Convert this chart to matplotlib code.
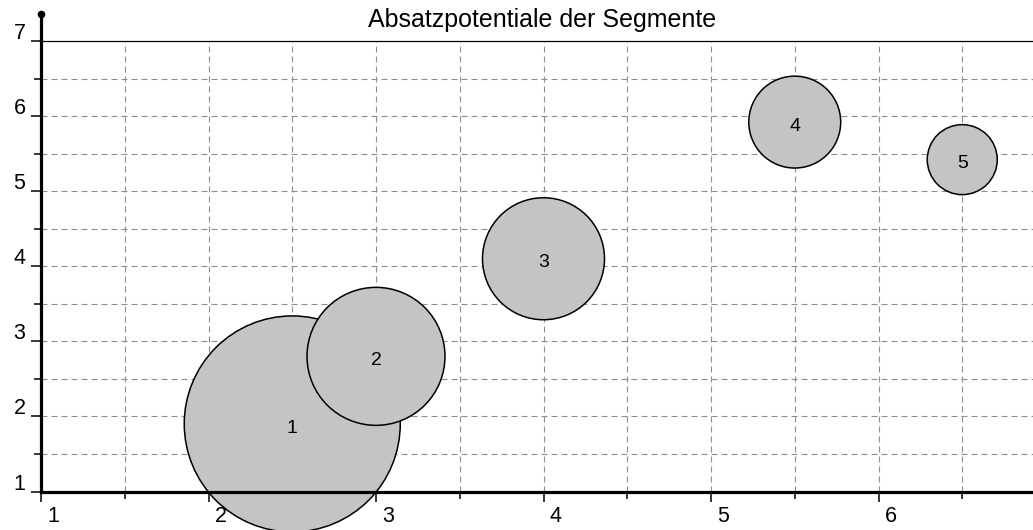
import matplotlib
matplotlib.use("Agg")
import matplotlib.pyplot as plt
import matplotlib.transforms as mtransforms
import numpy as np

# ---- data ----
segments = ["1", "2", "3", "4", "5"]
x_vals = [2.5, 3.0, 4.0, 5.5, 6.5]
y_vals = [1.9, 2.8, 4.1, 5.92, 5.42]
potential = [100, 40.8, 31.9, 18.1, 10.5]
x_ticks = [1, 2, 3, 4, 5, 6]
y_ticks = [1, 2, 3, 4, 5, 6, 7]
half_steps = [1.5, 2.5, 3.5, 4.5, 5.5, 6.5]
title = "Absatzpotentiale der Segmente"

plt.rcParams['font.family'] = ['Liberation Sans', 'DejaVu Sans']

W, H = 1033, 530
fig = plt.figure(figsize=(W / 100, H / 100), dpi=100)
fig.patch.set_facecolor("white")
ax = fig.add_axes([41 / W, (H - 491.5) / H, 992 / W, 450.5 / H])
ax.set_xlim(1, 1 + 992 / 167.5)
ax.set_ylim(1, 7)

grid_color = "#8e8e8e"
for gx in sorted(x_ticks[1:] + half_steps):
    ax.axvline(gx, color=grid_color, lw=0.8, dashes=(5.4, 3.6), zorder=0.5)
for gy in sorted(y_ticks[1:-1] + half_steps):
    ax.axhline(gy, color=grid_color, lw=0.8, dashes=(5.4, 3.6), zorder=0.5)

# bubbles
k = 241.9
sizes = [p * k for p in potential]
ax.scatter(x_vals, y_vals, s=sizes, facecolor="#c6c3c6", edgecolor="black",
           linewidths=1.1, zorder=2, clip_on=False)
for sx, sy, lab in zip(x_vals, y_vals, segments):
    ax.text(sx, sy, lab, ha="center", va="center", fontsize=14, zorder=3,
            transform=ax.transData + mtransforms.ScaledTranslation(0, -3 / 72, fig.dpi_scale_trans))

# spines
ax.spines["right"].set_visible(False)
ax.spines["left"].set_linewidth(2.3)
ax.spines["bottom"].set_linewidth(2.3)
ax.spines["top"].set_linewidth(0.9)
for side in ("left", "bottom", "top"):
    ax.spines[side].set_color("black")
    ax.spines[side].set_zorder(4)

# y axis arrow above top
ax.plot([1, 1], [7, 7 + 28 / 75.1], color="black", lw=2.3, clip_on=False, zorder=4,
        solid_capstyle="butt")
ax.plot([1], [7 + 27 / 75.1], marker="o", color="black", markersize=4.5, clip_on=False, zorder=4)

# ticks
ax.set_xticks(x_ticks)
ax.set_xticklabels([str(t) for t in x_ticks])
ax.set_xticks(half_steps, minor=True)
ax.set_yticks(y_ticks)
ax.set_yticklabels([str(t) for t in y_ticks])
ax.set_yticks(half_steps, minor=True)
ax.tick_params(which="major", direction="out", length=7.2, width=1.1, color="black",
               labelsize=15.5, labelcolor="black")
ax.tick_params(which="minor", direction="out", length=5, width=1.1, color="black")
ax.tick_params(axis="x", which="major", pad=3.5)
ax.tick_params(axis="y", which="major", pad=4)

off_x = mtransforms.ScaledTranslation(12 / 100, 0, fig.dpi_scale_trans)
for lab in ax.xaxis.get_majorticklabels():
    lab.set_transform(lab.get_transform() + off_x)
off_y = mtransforms.ScaledTranslation(0, 10 / 100, fig.dpi_scale_trans)
for lab in ax.yaxis.get_majorticklabels():
    lab.set_transform(lab.get_transform() + off_y)

ax.set_title(title, fontsize=18, pad=10, x=(542.5 - 41) / 992)
ax.set_facecolor("white")

fig.savefig("out.png", dpi=100)
